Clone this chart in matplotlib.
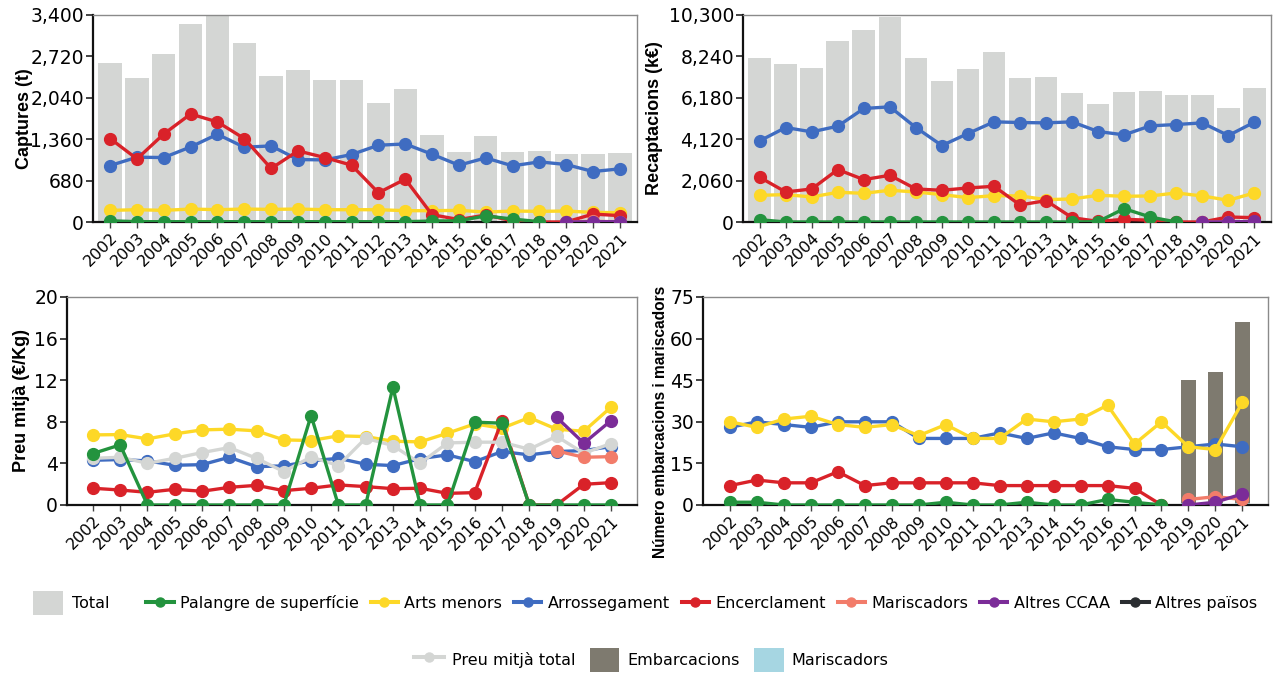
import numpy as np
import matplotlib
matplotlib.use("Agg")
import matplotlib.pyplot as plt
from matplotlib.lines import Line2D
from matplotlib.patches import Patch
from matplotlib.ticker import FuncFormatter

nan = np.nan
years = list(range(2002, 2022))

# ---- Captures (t) ----
cap_total = [2614, 2363, 2756, 3252, 3420, 2941, 2401, 2494, 2330, 2330,
             1948, 2188, 1435, 1151, 1419, 1151, 1168, 1124, 1113, 1130]
cap_palangre = [20, 5, 5, 5, 5, 5, 5, 5, 5, 5, 5, 5, 16, 20, 100, 49, 5, nan, nan, nan]
cap_arts = [191, 202, 191, 213, 202, 213, 207, 213, 202, 202,
            202, 186, 186, 191, 164, 180, 175, 180, 158, 153]
cap_arross = [928, 1064, 1059, 1233, 1441, 1228, 1250, 1026, 1020, 1108,
              1261, 1282, 1113, 933, 1053, 922, 988, 944, 829, 873]
cap_encer = [1370, 1037, 1446, 1774, 1643, 1370, 879, 1168, 1059, 933,
             480, 704, 120, 40, 115, 20, 0, 0, 130, 105]
cap_marisc = [nan] * 17 + [0, 10, 5]
cap_ccaa = [nan] * 17 + [0, 5, 5]
cap_paisos = [nan] * 20

# ---- Recaptacions (k€) ----
rec_total = [8156, 7857, 7641, 8987, 9552, 10216, 8156, 7026, 7591, 8472,
             7159, 7226, 6428, 5864, 6478, 6511, 6296, 6296, 5681, 6677]
rec_palangre = [116, 0, 0, 0, 0, 0, 0, 0, 0, 0, 0, 0, 0, 20, 664, 249, 0, nan, nan, nan]
rec_arts = [1329, 1362, 1246, 1478, 1428, 1578, 1495, 1362, 1212, 1312,
            1296, 1113, 1146, 1329, 1279, 1296, 1445, 1296, 1080, 1445]
rec_arross = [4037, 4701, 4485, 4767, 5648, 5731, 4701, 3804, 4402, 4983,
              4950, 4933, 4983, 4502, 4335, 4784, 4850, 4933, 4302, 4966]
rec_encer = [2226, 1495, 1644, 2608, 2109, 2325, 1644, 1578, 1694, 1777,
             847, 1063, 216, 30, 133, 90, 0, 0, 249, 216]
rec_marisc = [nan] * 17 + [0, 20, 10]
rec_ccaa = [nan] * 17 + [0, 10, 30]
rec_paisos = [nan] * 20

# ---- Preu mitjà (€/Kg) ----
pre_palangre = [4.95, 5.78, 0, 0, 0, 0, 0, 0, 8.60, 0,
                0, 11.33, 0, 0, 7.96, 7.87, 0, 0, 0, 0]
pre_arts = [6.74, 6.77, 6.36, 6.84, 7.22, 7.29, 7.13, 6.26, 6.20, 6.65,
            6.58, 6.13, 6.07, 6.90, 7.80, 7.38, 8.41, 7.29, 7.09, 9.41]
pre_arross = [4.30, 4.37, 4.24, 3.82, 3.88, 4.59, 3.69, 3.76, 4.24, 4.49,
              3.92, 3.79, 4.46, 4.82, 4.17, 5.14, 4.82, 5.14, 5.23, 5.62]
pre_encer = [1.61, 1.44, 1.22, 1.51, 1.32, 1.70, 1.89, 1.38, 1.61, 1.93,
             1.77, 1.57, 1.61, 1.12, 1.19, 8.12, 0, 0, 1.99, 2.15]
pre_marisc = [nan] * 17 + [5.20, 4.59, 4.65]
pre_ccaa = [nan] * 17 + [8.44, 5.94, 8.12]
pre_paisos = [nan] * 20
pre_total = [4.49, 4.59, 4.01, 4.49, 5.04, 5.52, 4.49, 3.21, 4.62, 3.79,
             6.42, 5.71, 4.01, 5.97, 6.04, 6.04, 5.36, 6.61, 4.98, 5.91]

# ---- Número embarcacions i mariscadors ----
num_embarc = [nan] * 17 + [45, 48, 66]
num_marisc_bar = [nan] * 17 + [0.8, 0.8, 0.8]
num_palangre = [1, 1, 0, 0, 0, 0, 0, 0, 1, 0, 0, 1, 0, 0, 2, 1, 0, nan, nan, nan]
num_arts = [30, 28, 31, 32, 29, 28, 29, 25, 29, 24,
            24, 31, 30, 31, 36, 22, 30, 21, 20, 37]
num_arross = [28, 30, 29, 28, 30, 30, 30, 24, 24, 24,
              26, 24, 26, 24, 21, 20, 20, 21, 22, 21]
num_encer = [7, 9, 8, 8, 12, 7, 8, 8, 8, 8, 7, 7, 7, 7, 7, 6, 0, nan, nan, nan]
num_marisc = [nan] * 17 + [2, 3, 2]
num_ccaa = [nan] * 17 + [0, 1, 4]
num_paisos = [nan] * 20

series_names = ["Palangre de superfície", "Arts menors", "Arrossegament",
                "Encerclament", "Mariscadors", "Altres CCAA", "Altres països"]
colors = {"Palangre de superfície": "#23933E", "Arts menors": "#FDD827",
          "Arrossegament": "#3F6CC1", "Encerclament": "#D92229",
          "Mariscadors": "#F27C6A", "Altres CCAA": "#7B2C98",
          "Altres països": "#2A2D30"}
c_total = "#D4D6D4"
c_embarc = "#7E7A6F"
c_marisc_bar = "#A6D6E2"
# z-order of the series lines (higher = drawn on top)
zorders = {"Arrossegament": 3.0, "Arts menors": 3.1, "Encerclament": 3.2,
           "Palangre de superfície": 3.4, "Mariscadors": 3.5,
           "Altres CCAA": 3.6, "Altres països": 3.7}

LW = 2.4
MS = 8.5
TICKFONT = "DejaVu Sans"
LABELFONT = "Liberation Sans"

fig = plt.figure(figsize=(12.73, 6.76), dpi=100)

def style_axes(ax, ylim, yticks, xlim, ylabel, fmt_comma=False, label_x=-0.1,
               label_y=0.5, label_size=13):
    ax.set_xlim(*xlim)
    ax.set_ylim(*ylim)
    ax.set_yticks(yticks)
    ax.set_xticks(years)
    ax.set_xticklabels([str(y) for y in years], rotation=45, ha="right",
                       rotation_mode="anchor", fontsize=11.5, family=TICKFONT)
    if fmt_comma:
        ax.yaxis.set_major_formatter(FuncFormatter(lambda v, p: f"{v:,.0f}"))
    else:
        ax.yaxis.set_major_formatter(FuncFormatter(lambda v, p: f"{v:.0f}"))
    for lab in ax.get_yticklabels():
        lab.set_fontsize(13.5)
        lab.set_family(TICKFONT)
    ax.tick_params(axis="y", length=5, width=1.2, pad=1.5, color="#222222")
    ax.tick_params(axis="x", length=4, width=1.0, pad=2, color="#444444")
    for s in ("left", "bottom"):
        ax.spines[s].set_color("#111111")
        ax.spines[s].set_linewidth(1.6)
    for s in ("top", "right"):
        ax.spines[s].set_color("#8A8A8A")
        ax.spines[s].set_linewidth(1.0)
    ax.set_ylabel(ylabel, fontsize=label_size, fontweight="bold", family=LABELFONT)
    ax.yaxis.set_label_coords(label_x, label_y)

def plot_series(ax, data_map):
    for name in series_names:
        ax.plot(years, data_map[name], color=colors[name], lw=LW, marker="o",
                ms=MS, zorder=zorders[name], solid_capstyle="round")

# Top-left
ax1 = fig.add_axes([93/1273, 1-222/676, 544/1273, 207/676])
ax1.bar(years, cap_total, width=0.87, color=c_total, zorder=1)
plot_series(ax1, dict(zip(series_names, [cap_palangre, cap_arts, cap_arross, cap_encer,
                                         cap_marisc, cap_ccaa, cap_paisos])))
style_axes(ax1, (0, 3400), np.linspace(0, 3400, 6), (2001.36, 2021.64),
           "Captures (t)", fmt_comma=True, label_x=-0.11)

# Top-right
ax2 = fig.add_axes([743/1273, 1-222/676, 528/1273, 207/676])
ax2.bar(years, rec_total, width=0.87, color=c_total, zorder=1)
plot_series(ax2, dict(zip(series_names, [rec_palangre, rec_arts, rec_arross, rec_encer,
                                         rec_marisc, rec_ccaa, rec_paisos])))
style_axes(ax2, (0, 10300), np.linspace(0, 10300, 6), (2001.36, 2021.64),
           "Recaptacions (k€)", fmt_comma=True, label_x=-0.152)

# Bottom-left
ax3 = fig.add_axes([67/1273, 1-505/676, 570/1273, 208/676])
plot_series(ax3, dict(zip(series_names, [pre_palangre, pre_arts, pre_arross, pre_encer,
                                         pre_marisc, pre_ccaa, pre_paisos])))
ax3.plot(years, pre_total, color=c_total, lw=LW, marker="o", ms=MS, zorder=3.3)
style_axes(ax3, (0, 20), np.arange(0, 21, 4), (2001.05, 2021.95),
           "Preu mitjà (€/Kg)", label_x=-0.065)

# Bottom-right
ax4 = fig.add_axes([703/1273, 1-505/676, 565/1273, 208/676])
ax4.bar(years, num_embarc, width=0.55, color=c_embarc, zorder=1)
ax4.bar(years, num_marisc_bar, width=0.55, color=c_marisc_bar, zorder=1.5)
plot_series(ax4, dict(zip(series_names, [num_palangre, num_arts, num_arross, num_encer,
                                         num_marisc, num_ccaa, num_paisos])))
style_axes(ax4, (0, 75), np.arange(0, 76, 15), (2001.0, 2021.95),
           "Número embarcacions i mariscadors", label_x=-0.062, label_y=0.40,
           label_size=11.2)

# Legends
LEGFONT = {"family": TICKFONT, "size": 11.5}
leg_a = fig.legend(handles=[Patch(facecolor=c_total, edgecolor="none")], labels=["Total"],
                   loc="center left", bbox_to_anchor=(27/1273, 1-603/676), frameon=False,
                   prop=LEGFONT, handlelength=1.85, handleheight=1.85, handletextpad=0.55,
                   borderaxespad=0)
line_handles = [Line2D([], [], color=colors[n], lw=LW + 0.5, marker="o", ms=6.5)
                for n in series_names]
leg_b = fig.legend(handles=line_handles, labels=series_names, loc="center left",
                   bbox_to_anchor=(140/1273, 1-603/676), frameon=False, ncol=7,
                   prop=LEGFONT, handlelength=1.7, handletextpad=0.4,
                   columnspacing=0.75, borderaxespad=0)
row2_handles = [Line2D([], [], color=c_total, lw=LW + 0.5, marker="o", ms=6.5),
                Patch(facecolor=c_embarc, edgecolor="none"),
                Patch(facecolor=c_marisc_bar, edgecolor="none")]
leg_c = fig.legend(handles=row2_handles,
                   labels=["Preu mitjà total", "Embarcacions", "Mariscadors"],
                   loc="center left", bbox_to_anchor=(408/1273, 1-660/676), frameon=False,
                   ncol=3, prop=LEGFONT, handlelength=1.85, handleheight=1.85,
                   handletextpad=0.5, columnspacing=0.9, borderaxespad=0)

fig.savefig("out.png", dpi=100)
